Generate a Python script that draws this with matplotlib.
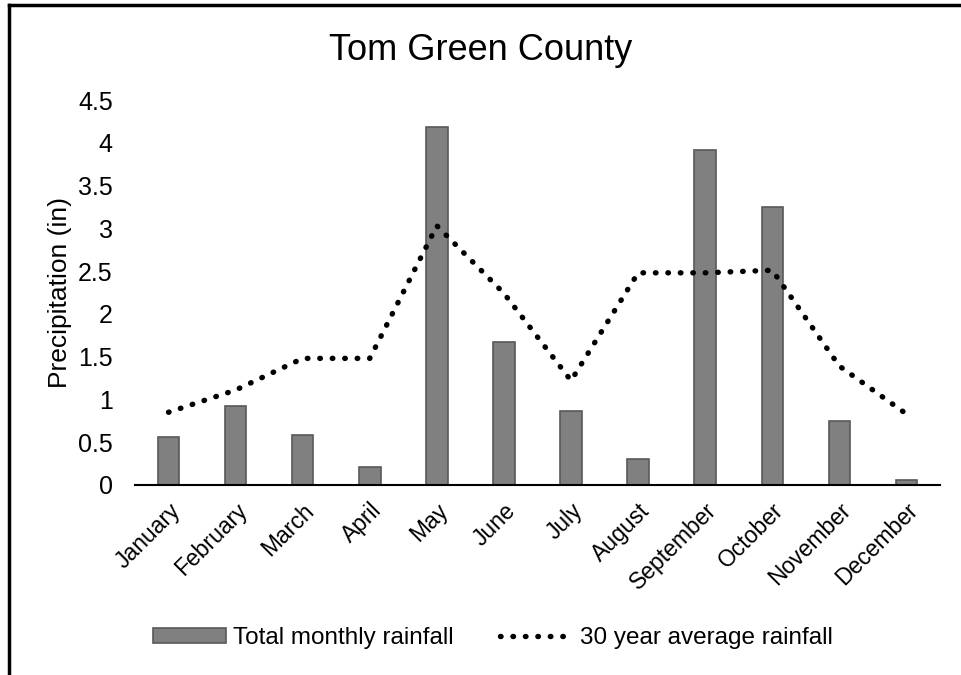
import matplotlib.pyplot as plt
from matplotlib.patches import Rectangle
from matplotlib.lines import Line2D

plt.rcParams['font.family'] = ['Liberation Sans', 'DejaVu Sans']

months = ['January', 'February', 'March', 'April', 'May', 'June', 'July',
          'August', 'September', 'October', 'November', 'December']
monthly_rain = [0.56, 0.92, 0.58, 0.21, 4.19, 1.67, 0.87, 0.30, 3.92, 3.25, 0.75, 0.06]
avg_rain = [0.85, 1.11, 1.48, 1.48, 3.03, 2.24, 1.22, 2.48, 2.48, 2.51, 1.39, 0.83]
y_ticks = [0, 0.5, 1, 1.5, 2, 2.5, 3, 3.5, 4, 4.5]

dot_style = (0, (0.1, 2.2))

fig = plt.figure(figsize=(9.61, 6.75), dpi=100)
ax = fig.add_axes([135 / 961, 1 - 485 / 675, 805 / 961, 385 / 675])

x = list(range(len(months)))
ax.bar(x, monthly_rain, width=0.32, color='#808080', edgecolor='#595959',
       linewidth=1.2, zorder=2)
ax.plot(x, avg_rain, color='black', linestyle=dot_style, linewidth=3.9,
        dash_capstyle='round', zorder=3)

ax.set_xlim(-0.5, 11.5)
ax.set_ylim(0, 4.5)
ax.set_yticks(y_ticks)
ax.set_yticklabels(['0', '0.5', '1', '1.5', '2', '2.5', '3', '3.5', '4', '4.5'], fontsize=18)
ax.set_xticks(x)
ax.set_xticklabels(months, rotation=45, ha='right', rotation_mode='anchor', fontsize=16.5)
ax.tick_params(axis='both', length=0)
ax.tick_params(axis='x', pad=10)
ax.tick_params(axis='y', pad=16)
for side in ['top', 'right', 'left']:
    ax.spines[side].set_visible(False)
ax.spines['bottom'].set_linewidth(1.5)
ax.set_ylabel('Precipitation (in)', fontsize=19, labelpad=4)

fig.text(0.5, 1 - 50 / 675, 'Tom Green County', ha='center', va='center', fontsize=26)

handles = [Rectangle((0, 0), 1, 1, facecolor='#808080', edgecolor='#595959', linewidth=1.2),
           Line2D([], [], color='black', linestyle=dot_style, linewidth=3.9,
                  dash_capstyle='round')]
fig.legend(handles, ['Total monthly rainfall', '30 year average rainfall'],
           loc='center', bbox_to_anchor=(493 / 961, 1 - 638 / 675), ncol=2, frameon=False,
           fontsize=17.5, handlelength=3.0, handleheight=0.55, columnspacing=1.9,
           handletextpad=0.3)

# outer frame, only the top and left edges fall inside the picture
fig.add_artist(Line2D([9 / 961, 9 / 961], [0, 1 - 5 / 675], color='black',
                      linewidth=2.5, transform=fig.transFigure))
fig.add_artist(Line2D([9 / 961, 1], [1 - 5 / 675, 1 - 5 / 675], color='black',
                      linewidth=2.5, transform=fig.transFigure))

fig.savefig('out.png', dpi=100)
